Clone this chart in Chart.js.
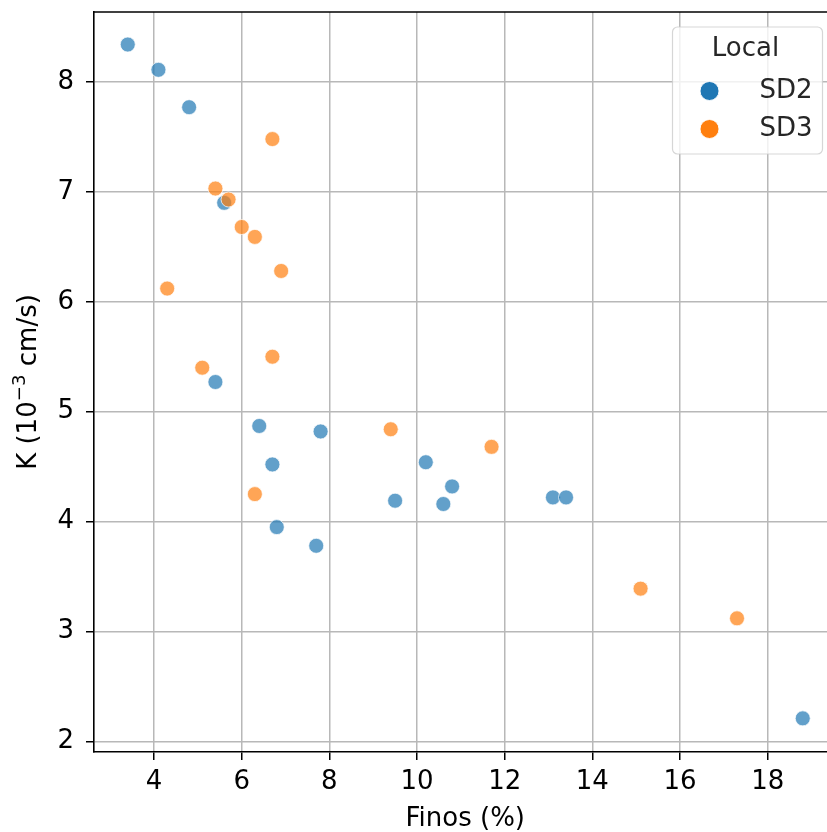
<!DOCTYPE html>
<html>
<head>
<meta charset="utf-8">
<script src="https://cdn.jsdelivr.net/npm/chart.js@4/dist/chart.umd.min.js"></script>
<style>
  html, body { margin: 0; padding: 0; background: #fff; overflow: hidden; }
  #wrap { width: 827px; height: 832px; overflow: hidden; position: relative; }
  canvas { display: block; }
</style>
</head>
<body>
<div id="wrap"><canvas id="c" width="845" height="845"></canvas></div>
<script>
// Hydraulic conductivity vs. fines content, by sampling site
const seriesNames = ['SD2', 'SD3'];
const sd2Finos = [3.4, 4.1, 4.8, 5.6, 5.4, 6.4, 7.8, 6.7, 10.2, 10.8, 10.6, 9.5, 6.8, 7.7, 13.1, 13.4, 18.8];
const sd2K     = [8.34, 8.11, 7.77, 6.90, 5.27, 4.87, 4.82, 4.52, 4.54, 4.32, 4.16, 4.19, 3.95, 3.78, 4.22, 4.22, 2.21];
const sd3Finos = [6.7, 5.4, 5.7, 6.0, 6.3, 6.9, 4.3, 6.7, 5.1, 9.4, 11.7, 6.3, 15.1, 17.3];
const sd3K     = [7.48, 7.03, 6.93, 6.68, 6.59, 6.28, 6.12, 5.50, 5.40, 4.84, 4.68, 4.25, 3.39, 3.12];
const xTicks = [4, 6, 8, 10, 12, 14, 16, 18];
const yTicks = [2, 3, 4, 5, 6, 7, 8];

const solid = ['#1f77b4', '#ff7f0e'];
const faded = ['rgba(31,119,180,0.7)', 'rgba(255,127,14,0.7)'];
const FONT = "'DejaVu Sans', sans-serif";
const FS = 26;

const toPoints = (xs, ys) => xs.map((x, i) => ({ x, y: ys[i] }));

// Frame line along the top of the plotting area
const frameTop = {
  id: 'frameTop',
  afterDraw(chart) {
    const { ctx, chartArea: a } = chart;
    ctx.save();
    ctx.strokeStyle = '#000';
    ctx.lineWidth = 1.6;
    ctx.beginPath();
    ctx.moveTo(a.left, a.top);
    ctx.lineTo(a.right, a.top);
    ctx.stroke();
    ctx.restore();
  }
};

// Vertical axis title with a raised exponent: K (10^-3 cm/s)
const yTitle = {
  id: 'yTitle',
  afterDraw(chart) {
    const { ctx, chartArea: a } = chart;
    const parts = [
      { t: 'K (10', size: FS, rise: 0 },
      { t: '\u22123', size: FS * 0.7, rise: FS * 0.42 },
      { t: ' cm/s)', size: FS, rise: 0 }
    ];
    ctx.save();
    let total = 0;
    parts.forEach(p => { ctx.font = p.size + 'px ' + FONT; p.w = ctx.measureText(p.t).width; total += p.w; });
    ctx.translate(36, (a.top + a.bottom) / 2);
    ctx.rotate(-Math.PI / 2);
    ctx.fillStyle = '#000';
    ctx.textAlign = 'left';
    ctx.textBaseline = 'alphabetic';
    let x = -total / 2;
    parts.forEach(p => {
      ctx.font = p.size + 'px ' + FONT;
      ctx.fillText(p.t, x, -p.rise);
      x += p.w;
    });
    ctx.restore();
  }
};

// Boxed legend with a title, top-right inside the axes
const boxLegend = {
  id: 'boxLegend',
  afterDraw(chart) {
    const { ctx, chartArea: a } = chart;
    const w = 150, h = 127;
    const x0 = a.right - 14 - w, y0 = a.top + 15;
    ctx.save();
    const r = 5;
    ctx.beginPath();
    ctx.moveTo(x0 + r, y0);
    ctx.lineTo(x0 + w - r, y0);
    ctx.arcTo(x0 + w, y0, x0 + w, y0 + r, r);
    ctx.lineTo(x0 + w, y0 + h - r);
    ctx.arcTo(x0 + w, y0 + h, x0 + w - r, y0 + h, r);
    ctx.lineTo(x0 + r, y0 + h);
    ctx.arcTo(x0, y0 + h, x0, y0 + h - r, r);
    ctx.lineTo(x0, y0 + r);
    ctx.arcTo(x0, y0, x0 + r, y0, r);
    ctx.closePath();
    ctx.fillStyle = 'rgba(255,255,255,0.8)';
    ctx.fill();
    ctx.strokeStyle = 'rgba(204,204,204,0.8)';
    ctx.lineWidth = 1.2;
    ctx.stroke();

    ctx.fillStyle = '#262626';
    ctx.font = FS + 'px ' + FONT;
    ctx.textAlign = 'center';
    ctx.textBaseline = 'middle';
    ctx.fillText('Local', x0 + 73, y0 + 22);

    chart.data.datasets.forEach((ds, i) => {
      const cy = y0 + 64 + i * 38;
      ctx.beginPath();
      ctx.arc(x0 + 37, cy, 9.5, 0, Math.PI * 2);
      ctx.fillStyle = ds.legendColor;
      ctx.fill();
      ctx.strokeStyle = 'rgba(255,255,255,0.9)';
      ctx.lineWidth = 1;
      ctx.stroke();
      ctx.fillStyle = '#262626';
      ctx.textAlign = 'left';
      ctx.fillText(ds.label, x0 + 87, cy);
    });
    ctx.restore();
  }
};

new Chart(document.getElementById('c'), {
  type: 'scatter',
  data: {
    datasets: [
      {
        label: seriesNames[0],
        data: toPoints(sd2Finos, sd2K),
        backgroundColor: faded[0],
        borderColor: 'rgba(255,255,255,0.7)',
        borderWidth: 1,
        pointRadius: 7.5,
        legendColor: solid[0],
        order: 2
      },
      {
        label: seriesNames[1],
        data: toPoints(sd3Finos, sd3K),
        backgroundColor: faded[1],
        borderColor: 'rgba(255,255,255,0.7)',
        borderWidth: 1,
        pointRadius: 7.5,
        legendColor: solid[1],
        order: 1
      }
    ]
  },
  options: {
    responsive: false,
    animation: false,
    devicePixelRatio: 1,
    layout: { padding: { left: 0, top: 12, right: 6, bottom: 0 } },
    plugins: {
      legend: { display: false },
      tooltip: { enabled: false }
    },
    scales: {
      x: {
        type: 'linear',
        min: 2.63,
        max: 19.57,
        afterBuildTicks: s => { s.ticks = xTicks.map(v => ({ value: v })); },
        afterFit: s => { s.height = 93; s.paddingLeft = 0; s.paddingRight = 0; },
        ticks: {
          font: { family: FONT, size: FS },
          color: '#000',
          padding: 7,
          maxRotation: 0,
          autoSkip: false
        },
        grid: {
          color: '#b8b8b8',
          lineWidth: 1.5,
          tickLength: 8,
          tickColor: '#000',
          tickWidth: 1.5
        },
        border: { display: true, color: '#000', width: 1.6 },
        title: {
          display: true,
          text: 'Finos (%)',
          font: { family: FONT, size: FS },
          color: '#000',
          padding: { top: 0, bottom: 10 }
        }
      },
      y: {
        type: 'linear',
        min: 1.904,
        max: 8.636,
        afterBuildTicks: s => { s.ticks = yTicks.map(v => ({ value: v })); },
        afterFit: s => { s.width = 94; s.paddingTop = 0; s.paddingBottom = 0; },
        ticks: {
          font: { family: FONT, size: FS },
          color: '#000',
          padding: 12,
          autoSkip: false
        },
        grid: {
          color: '#b8b8b8',
          lineWidth: 1.5,
          tickLength: 8,
          tickColor: '#000',
          tickWidth: 1.5
        },
        border: { display: true, color: '#000', width: 1.6 }
      }
    }
  },
  plugins: [frameTop, yTitle, boxLegend]
});
</script>
</body>
</html>
